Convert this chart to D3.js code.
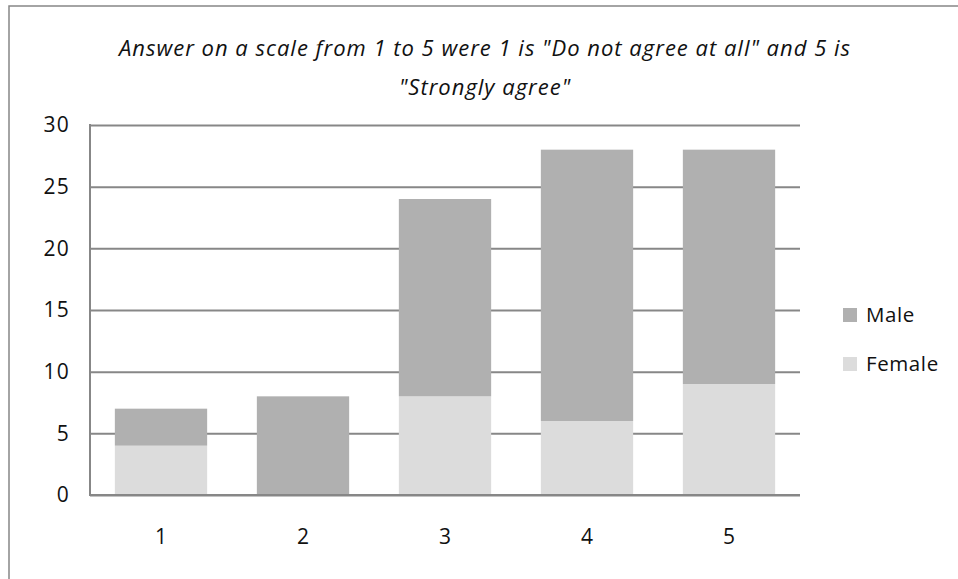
<!DOCTYPE html>
<html>
<head>
<meta charset="utf-8">
<script src="https://cdn.jsdelivr.net/npm/d3@7"></script>
<style>
  html, body { margin: 0; padding: 0; background: #fff; }
  svg { display: block; font-family: "Open Sans", "Noto Sans", sans-serif; }
  svg text { font-family: "Open Sans", "Noto Sans", sans-serif; }
</style>
</head>
<body>
<div id="chart"></div>
<script>
// Stacked answer counts by gender.
const categories = ['1', '2', '3', '4', '5'];
const female = [4, 0, 8, 6, 9];
const male = [3, 8, 16, 22, 19];
const yTicks = [0, 5, 10, 15, 20, 25, 30];
const titleLines = ['Answer on a scale from 1 to 5 were  1 is "Do not agree at all" and 5 is', '"Strongly agree"'];
const seriesNames = ['Male', 'Female'];

const W = 958, H = 579;
const plot = { left: 90, right: 800, top: 125, bottom: 495 };
const colors = { Male: '#b0b0b0', Female: '#dcdcdc' };
const lineInk = '#878787';
const textInk = '#111';

const svg = d3.select('#chart').append('svg')
  .attr('width', W).attr('height', H).attr('viewBox', `0 0 ${W} ${H}`);

// Chart frame (runs off the bottom and right of the picture).
svg.append('rect').attr('x', 9).attr('y', 6).attr('width', W + 10).attr('height', H + 10)
  .attr('fill', '#fff').attr('stroke', lineInk).attr('stroke-width', 1.5);

const x = d3.scaleBand().domain(categories).range([plot.left, plot.right]).paddingInner(0.35).paddingOuter(0.175);
const y = d3.scaleLinear().domain([0, 30]).range([plot.bottom, plot.top]);

// Title, two italic lines.
svg.append('g').selectAll('text').data(titleLines).join('text')
  .attr('x', 485).attr('y', (d, i) => 56 + i * 39)
  .attr('text-anchor', 'middle').attr('font-style', 'italic')
  .style('font-size', '22px').style('letter-spacing', '1px')
  .attr('fill', textInk).text((d) => d);

// Gridlines + y labels.
svg.append('g').attr('transform', `translate(${plot.left},0)`)
  .call(d3.axisLeft(y).tickValues(yTicks).tickSize(-(plot.right - plot.left)).tickPadding(20))
  .attr('font-family', null).attr('font-size', null)
  .call((sel) => {
    sel.select('.domain').remove();
    sel.selectAll('line').attr('stroke', lineInk).attr('stroke-width', 2);
    sel.selectAll('text').attr('fill', textInk)
      .style('font-size', '21px').style('letter-spacing', '1.2px');
  });

// Stacked bars.
const stack = d3.stack().keys(['Female', 'Male']);
const rows = categories.map((c, i) => ({ cat: c, Female: female[i], Male: male[i] }));
const layers = stack(rows);
svg.append('g').selectAll('g').data(layers).join('g')
  .attr('fill', (d) => colors[d.key])
  .selectAll('rect').data((d) => d).join('rect')
  .attr('x', (d) => x(d.data.cat)).attr('width', x.bandwidth())
  .attr('y', (d) => y(d[1])).attr('height', (d) => y(d[0]) - y(d[1]));

// Axis lines on top of the bars.
svg.append('line').attr('x1', plot.left).attr('x2', plot.left)
  .attr('y1', plot.top - 1).attr('y2', plot.bottom + 1)
  .attr('stroke', lineInk).attr('stroke-width', 2);
svg.append('line').attr('x1', plot.left - 1).attr('x2', plot.right)
  .attr('y1', plot.bottom).attr('y2', plot.bottom)
  .attr('stroke', lineInk).attr('stroke-width', 2);

// Category labels.
svg.append('g').attr('transform', `translate(0,${plot.bottom})`)
  .call(d3.axisBottom(x).tickSize(0).tickPadding(34))
  .attr('font-family', null).attr('font-size', null)
  .call((sel) => {
    sel.select('.domain').remove();
    sel.selectAll('text').attr('fill', textInk).style('font-size', '21px');
  });

// Legend.
const legend = svg.append('g').selectAll('g').data(seriesNames).join('g')
  .attr('transform', (d, i) => `translate(843,${308 + i * 49})`);
legend.append('rect').attr('width', 14).attr('height', 14).attr('fill', (d) => colors[d]);
legend.append('text').attr('x', 23).attr('y', 7).attr('dy', '0.35em')
  .style('font-size', '20.5px').style('letter-spacing', '0.6px')
  .attr('fill', textInk).text((d) => d);
</script>
</body>
</html>
